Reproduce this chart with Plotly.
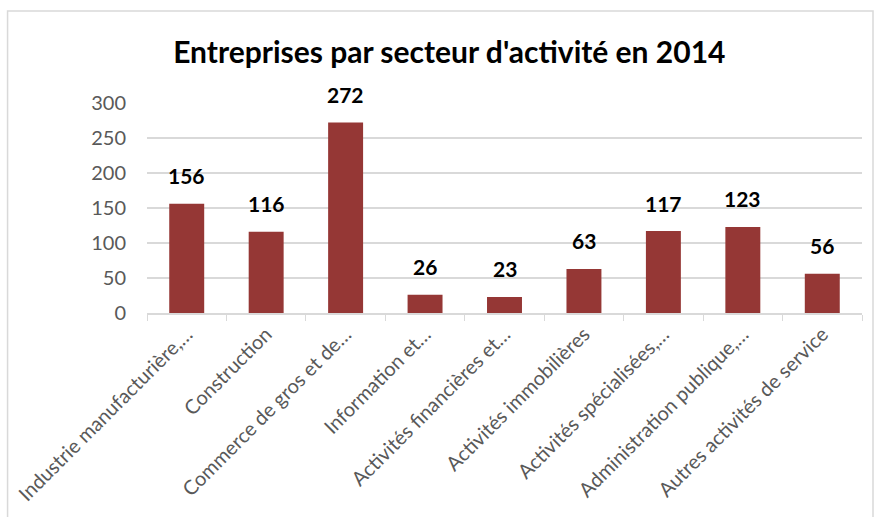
import plotly.graph_objects as go

categories = [
    "Industrie manufacturière,…",
    "Construction",
    "Commerce de gros et de…",
    "Information et…",
    "Activités financières et…",
    "Activités immobilières",
    "Activités spécialisées,…",
    "Administration publique,…",
    "Autres activités de service",
]
values = [156, 116, 272, 26, 23, 63, 117, 123, 56]
y_ticks = [0, 50, 100, 150, 200, 250, 300]

BAR = "#953735"
GRID = "#d9d9d9"
FONT = "Lato, 'Open Sans', sans-serif"

fig = go.Figure(go.Bar(
    x=categories,
    y=values,
    marker=dict(color=BAR, line=dict(width=0)),
    width=0.44,
    hoverinfo="x+y",
))

annotations = [
    dict(x=c, y=v, xref="x", yref="y", text=f"<b>{v}</b>", showarrow=False,
         yanchor="middle", yshift=28,
         font=dict(family=FONT, size=21, color="#000000"))
    for c, v in zip(categories, values)
]

fig.update_layout(
    width=881,
    height=517,
    margin=dict(l=147, r=19, t=103, b=204, autoexpand=False),
    paper_bgcolor="white",
    plot_bgcolor="white",
    showlegend=False,
    title=dict(
        text="<b>Entreprises par secteur d'activité en 2014</b>",
        x=0.51, xref="container", xanchor="center",
        y=1 - 52 / 517, yref="container", yanchor="middle",
        font=dict(family=FONT, size=30, color="#000000"),
    ),
    xaxis=dict(
        tickangle=-45,
        automargin=False,
        tickfont=dict(family=FONT, size=20, color="#595959"),
        showline=True, linecolor=GRID, linewidth=1.5,
        ticks="outside", tickson="boundaries", ticklen=6, tickcolor=GRID,
        showgrid=False,
    ),
    yaxis=dict(
        range=[0, 300],
        automargin=False,
        tickvals=y_ticks,
        tickfont=dict(family=FONT, size=20, color="#595959"),
        showgrid=True, gridcolor=GRID, gridwidth=1.5,
        zeroline=False, showline=False, ticks="", ticklabelstandoff=20,
    ),
    annotations=annotations,
    shapes=[dict(
        type="rect", xref="paper", yref="paper",
        x0=-0.195, x1=1.0154, y0=-1.2, y1=(313 - 11) / 210,
        line=dict(color=GRID, width=1.5), fillcolor="rgba(0,0,0,0)", layer="below",
    )],
)

fig.write_html(
    "out.html",
    config={"displayModeBar": False},
    post_script="document.body.style.margin='0';document.body.style.overflow='hidden';",
)
